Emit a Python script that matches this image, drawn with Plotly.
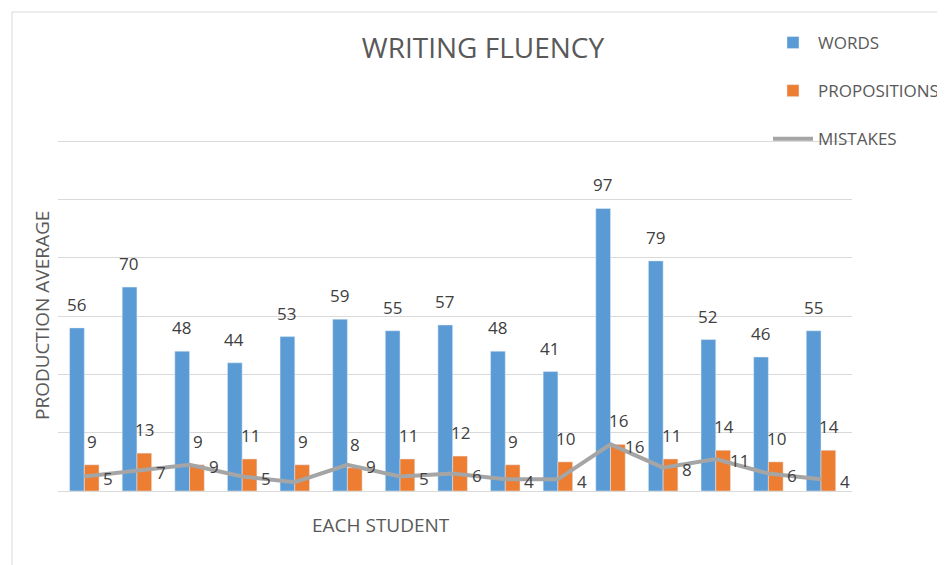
import plotly.graph_objects as go

students = ["S%d" % i for i in range(1, 16)]
words = [56, 70, 48, 44, 53, 59, 55, 57, 48, 41, 97, 79, 52, 46, 55]
propositions = [9, 13, 9, 11, 9, 8, 11, 12, 9, 10, 16, 11, 14, 10, 14]
mistakes = [5, 7, 9, 5, 3, 9, 5, 6, 4, 4, 16, 8, 11, 6, 4]
mistake_label_shown = [True, True, True, True, False, True, True, True, True, True, True, True, True, True, True]

BLUE = "#5B9BD5"
ORANGE = "#ED7D31"
GRAY = "#A5A5A5"
TXT = "#595959"
LBL = "#404040"
FONT = "Open Sans"

OFF = 8  # page body margin
W, H = 945 - OFF, 565 - OFF
# target plot area in page pixels: x 58..852, y 140..491
L, R, T, B = 58 - OFF, 945 - 852, 140 - OFF, 565 - 491
PW = W - L - R
PH = H - T - B

def px_x(p):  # page pixel -> paper x
    return (p - OFF - L) / PW

def px_y(p):  # page pixel -> paper y
    return (H - B - (p - OFF)) / PH

fig = go.Figure()
fig.add_trace(go.Bar(x=students, y=words, name="WORDS", marker_color=BLUE,
                     legendgroup="a"))
fig.add_trace(go.Bar(x=students, y=propositions, name="PROPOSITIONS", marker_color=ORANGE,
                     legendgroup="b"))
fig.add_trace(go.Scatter(x=students, y=mistakes, name="MISTAKES", mode="lines",
                         line=dict(color=GRAY, width=4), legendgroup="c"))

annotations = []
bar_off = 8
lab_font = dict(size=17, color=LBL, family=FONT)
for s, w, p, m, show in zip(students, words, propositions, mistakes, mistake_label_shown):
    annotations.append(dict(x=s, y=w, text=str(w), showarrow=False, xshift=-bar_off,
                            yanchor="bottom", yshift=10, font=lab_font))
    annotations.append(dict(x=s, y=p, text=str(p), showarrow=False, xshift=bar_off,
                            yanchor="bottom", yshift=10, font=lab_font))
    if show:
        annotations.append(dict(x=s, y=m, text=str(m), showarrow=False, xshift=24,
                                yshift=-2, font=lab_font))

annotations.append(dict(xref="paper", yref="paper", x=px_x(42), y=px_y(316), text="PRODUCTION AVERAGE",
                        textangle=-90, showarrow=False, xanchor="center", yanchor="middle",
                        font=dict(size=19, color=TXT, family=FONT)))
annotations.append(dict(xref="paper", yref="paper", x=px_x(381), y=px_y(525), text="EACH STUDENT",
                        showarrow=False, xanchor="center", yanchor="middle",
                        font=dict(size=19, color=TXT, family=FONT)))

shapes = [
    dict(type="line", xref="paper", yref="paper", x0=px_x(12), x1=px_x(12), y0=px_y(12), y1=px_y(570),
         line=dict(color="#D9D9D9", width=1)),
    dict(type="line", xref="paper", yref="paper", x0=px_x(12), x1=px_x(950), y0=px_y(12), y1=px_y(12),
         line=dict(color="#D9D9D9", width=1)),
]

fig.update_layout(
    width=W, height=H,
    margin=dict(l=L, r=R, t=T, b=B, autoexpand=False),
    paper_bgcolor="white", plot_bgcolor="white",
    barmode="group", bargap=0.44, bargroupgap=0,
    title=dict(text="WRITING FLUENCY", x=(483 - OFF) / W, xanchor="center", y=1 - (48 - OFF) / H,
               yanchor="middle", font=dict(size=28, color=TXT, family=FONT)),
    xaxis=dict(type="category", showticklabels=False, showgrid=False, showline=True, linecolor="#D9D9D9",
               linewidth=1, ticks="", zeroline=False),
    yaxis=dict(range=[0, 120.5], tickvals=[20, 40, 60, 80, 100, 120], showticklabels=False, showgrid=True,
               gridcolor="#D9D9D9", gridwidth=1, zeroline=False, ticks="", showline=False),
    legend=dict(x=px_x(768), y=px_y(25), xanchor="left", yanchor="top",
                traceorder="grouped", tracegroupgap=23,
                font=dict(size=17, color=TXT, family=FONT), bgcolor="rgba(0,0,0,0)",
                itemwidth=40),
    annotations=annotations,
    shapes=shapes,
    font=dict(family=FONT, color=TXT),
)

fig.write_html("out.html")
